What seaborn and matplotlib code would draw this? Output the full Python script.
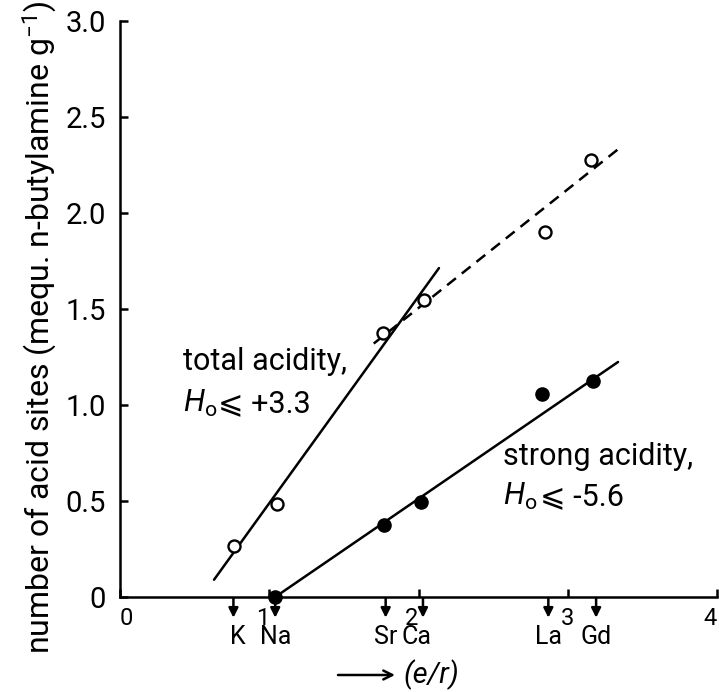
import matplotlib
matplotlib.use("Agg")
import matplotlib.pyplot as plt
import matplotlib.transforms as mtransforms
import seaborn as sns
import pandas as pd

# ---- data ----
total_er = [0.764, 1.05, 1.764, 2.037, 2.848, 3.156]
total_acid = [0.266, 0.484, 1.377, 1.547, 1.901, 2.276]
strong_er = [1.04, 1.77, 2.02, 2.83, 3.167]
strong_acid = [0.00, 0.375, 0.496, 1.057, 1.127]

total_fit_x = [0.63, 2.137]
total_fit_y = [0.09, 1.713]
total_ext_x = [1.70, 3.35]
total_ext_y = [1.32, 2.34]
strong_fit_x = [1.04, 3.337]
strong_fit_y = [0.00, 1.224]

cations = ["K", "Na", "Sr", "Ca", "La", "Gd"]
cation_er = [0.76, 1.04, 1.78, 2.03, 2.87, 3.19]

xticks = [0, 1, 2, 3, 4]
xtick_labels = ["0", "1", "2", "3", "4"]
yticks = [0, 0.5, 1.0, 1.5, 2.0, 2.5, 3.0]
ytick_labels = ["0", "0.5", "1.0", "1.5", "2.0", "2.5", "3.0"]

ylabel = "number of acid sites (mequ. n-butylamine g$^{-1}$)"
xlabel = "(e/r)"
hammett = r"$H_{\mathrm{o}}$"
total_text = ["total acidity,", "⩽ +3.3"]
strong_text = ["strong acidity,", "⩽ -5.6"]

sns.set_theme(style="ticks")
plt.rcParams["font.family"] = ["Roboto", "DejaVu Sans"]
plt.rcParams["mathtext.fontset"] = "custom"
plt.rcParams["mathtext.rm"] = "Roboto"
plt.rcParams["mathtext.it"] = "Roboto:italic"
plt.rcParams["mathtext.fallback"] = "stixsans"
for k in ["text.color", "axes.labelcolor", "xtick.color", "ytick.color",
          "axes.edgecolor"]:
    plt.rcParams[k] = "black"

fig = plt.figure(figsize=(7.19, 6.92), dpi=100)
ax = fig.add_axes([120 / 719, 95 / 692, 597 / 719, 576 / 692])

df_tot = pd.DataFrame({"x": total_er, "y": total_acid})
df_str = pd.DataFrame({"x": strong_er, "y": strong_acid})

sns.lineplot(x=total_fit_x, y=total_fit_y, ax=ax, color="black", lw=1.8)
sns.lineplot(x=total_ext_x, y=total_ext_y, ax=ax, color="black", lw=1.8,
             linestyle=(0, (4.5, 3)))
sns.lineplot(x=strong_fit_x, y=strong_fit_y, ax=ax, color="black", lw=1.8)

sns.scatterplot(data=df_tot, x="x", y="y", ax=ax, marker="o", s=75,
                facecolor="white", edgecolor="black", linewidth=1.7, zorder=5,
                clip_on=False)
sns.scatterplot(data=df_str, x="x", y="y", ax=ax, marker="o", s=90,
                color="black", edgecolor="black", linewidth=1, zorder=5,
                clip_on=False)

ax.set_xlim(0, 4)
ax.set_ylim(0, 3.0)
ax.set_xticks(xticks)
ax.set_xticklabels(xtick_labels, ha="right")
ax.get_xticklabels()[0].set_ha("left")
ax.get_xticklabels()[3].set_ha("center")
ax.set_yticks(yticks)
ax.set_yticklabels(ytick_labels)
ax.set_xlabel("")
ax.set_ylabel("")
for s in ["top", "right"]:
    ax.spines[s].set_visible(False)
for s in ["left", "bottom"]:
    ax.spines[s].set_linewidth(1.8)
    ax.spines[s].set_color("black")
ax.tick_params(axis="both", direction="in", length=6, width=1.8,
               colors="black")
ax.tick_params(axis="x", pad=7, labelsize=17)
ax.tick_params(axis="y", pad=10, labelsize=21)

# cation arrows and labels below axis
trans = mtransforms.blended_transform_factory(ax.transData, ax.transAxes)
label_dx = {"K": 3, "Ca": -4.5}
for name, er in zip(cations, cation_er):
    ax.annotate("", xy=(er, -0.036), xytext=(er, -0.002), xycoords=trans,
                textcoords=trans,
                arrowprops=dict(arrowstyle="-|>", color="black", lw=1.8,
                                mutation_scale=14, shrinkA=0, shrinkB=0),
                annotation_clip=False)
    ax.annotate(name, xy=(er, -0.0694), xycoords=trans,
                xytext=(label_dx.get(name, 0), 0),
                textcoords="offset points", ha="center", va="center",
                fontsize=18, annotation_clip=False)

# series annotations
for (x0, y1, y2, dx), lines in [((0.422, 1.182, 0.964, 25), total_text),
                                ((2.566, 0.6875, 0.479, 27), strong_text)]:
    ax.text(x0, y1, lines[0], fontsize=22, ha="left", va="baseline")
    ax.text(x0, y2, hammett, fontsize=22, ha="left", va="baseline")
    ax.annotate(lines[1], xy=(x0, y2), xytext=(dx, 0),
                textcoords="offset points", fontsize=22, ha="left",
                va="baseline")

# x label with arrow
ax.annotate("", xy=(395 / 719, 1 - 675 / 692), xytext=(338 / 719, 1 - 675 / 692),
            xycoords="figure fraction", textcoords="figure fraction",
            arrowprops=dict(arrowstyle="->", color="black", lw=1.8,
                            mutation_scale=16, shrinkA=0, shrinkB=0),
            annotation_clip=False)
fig.text(403 / 719, 1 - 675 / 692, xlabel, fontsize=21, style="italic",
         ha="left", va="center")

fig.text(40 / 719, 1 - 327 / 692, ylabel, rotation=90, fontsize=23,
         ha="center", va="center")

fig.savefig("out.png", dpi=100, facecolor="white")
